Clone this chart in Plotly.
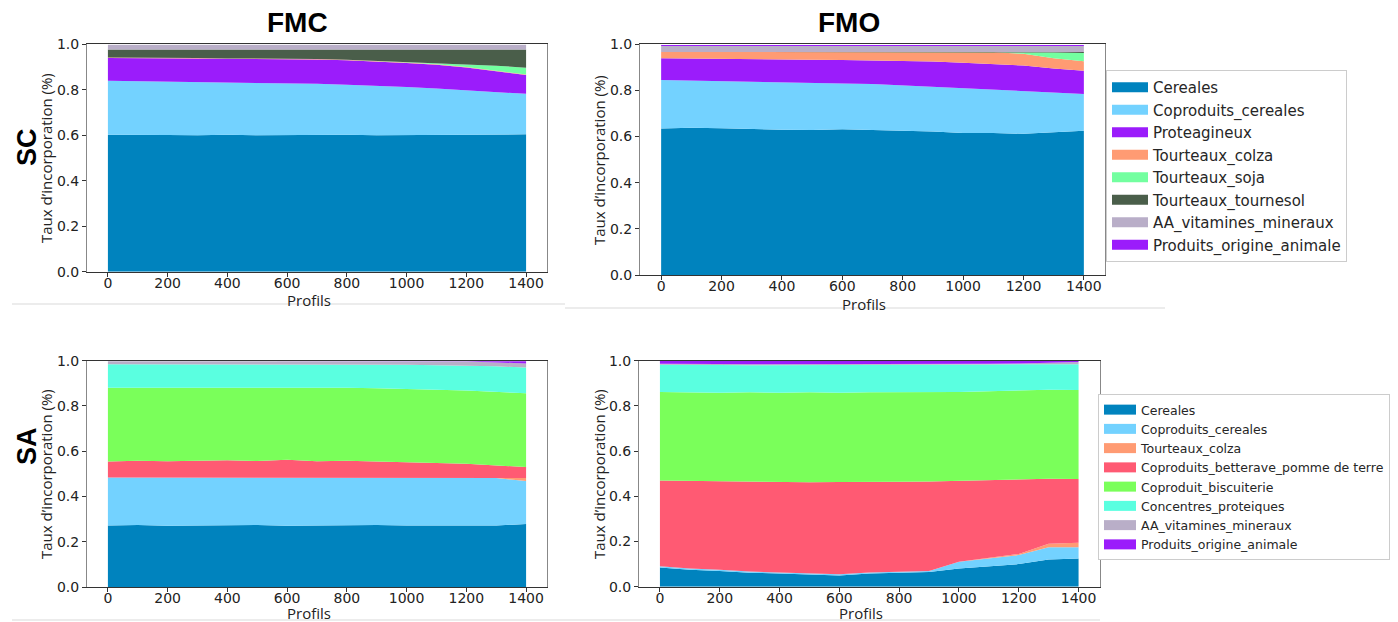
import plotly.graph_objects as go

# ---------------- data ----------------
profils = [0, 100, 200, 300, 400, 500, 600, 700, 800, 900, 1000, 1100, 1200, 1300, 1400]

# FMC - SC
fmc_sc_cereales = [0.602, 0.600, 0.601, 0.600, 0.602, 0.600, 0.601, 0.600, 0.602, 0.600, 0.601, 0.600, 0.602, 0.601, 0.604]
fmc_sc_coproduits_cereales = [0.238, 0.238, 0.235, 0.235, 0.230, 0.233, 0.229, 0.226, 0.220, 0.218, 0.211, 0.206, 0.196, 0.189, 0.178]
fmc_sc_proteagineux = [0.100, 0.102, 0.102, 0.103, 0.104, 0.103, 0.105, 0.107, 0.108, 0.107, 0.106, 0.104, 0.100, 0.092, 0.083]
fmc_sc_tourteaux_colza = [0.002] * 15
fmc_sc_tourteaux_soja = [0, 0, 0, 0, 0, 0, 0, 0, 0, 0, 0.001, 0.003, 0.010, 0.022, 0.030]
fmc_sc_tourteaux_tournesol = [0.035, 0.035, 0.037, 0.037, 0.039, 0.039, 0.040, 0.042, 0.045, 0.050, 0.056, 0.062, 0.067, 0.071, 0.080]
fmc_sc_aa = [0.021] * 15
fmc_sc_animal = [0] * 15

# FMO - SC
fmo_sc_cereales = [0.635, 0.638, 0.636, 0.632, 0.630, 0.628, 0.632, 0.628, 0.625, 0.622, 0.615, 0.616, 0.612, 0.618, 0.625]
fmo_sc_coproduits_cereales = [0.210, 0.204, 0.204, 0.206, 0.205, 0.204, 0.198, 0.200, 0.197, 0.193, 0.195, 0.189, 0.186, 0.172, 0.160]
fmo_sc_proteagineux = [0.095, 0.096, 0.097, 0.097, 0.100, 0.101, 0.102, 0.102, 0.106, 0.110, 0.110, 0.110, 0.110, 0.105, 0.100]
fmo_sc_tourteaux_colza = [0.027, 0.029, 0.030, 0.032, 0.032, 0.034, 0.035, 0.037, 0.039, 0.042, 0.047, 0.050, 0.051, 0.044, 0.042]
fmo_sc_tourteaux_soja = [0, 0, 0, 0, 0, 0, 0, 0, 0, 0, 0, 0.002, 0.008, 0.025, 0.035]
fmo_sc_tourteaux_tournesol = [0, 0, 0, 0, 0, 0, 0, 0, 0, 0, 0, 0, 0, 0.003, 0.005]
fmo_sc_aa = [0.026] * 15
fmo_sc_animal = [0.004] * 15

# FMC - SA
fmc_sa_cereales = [0.272, 0.274, 0.271, 0.273, 0.272, 0.274, 0.271, 0.273, 0.272, 0.274, 0.272, 0.273, 0.274, 0.272, 0.278]
fmc_sa_coproduits_cereales = [0.212, 0.210, 0.213, 0.211, 0.212, 0.210, 0.213, 0.211, 0.212, 0.210, 0.212, 0.211, 0.210, 0.210, 0.190]
fmc_sa_tourteaux_colza = [0, 0, 0, 0, 0, 0, 0, 0, 0, 0, 0, 0, 0, 0.002, 0.014]
fmc_sa_betterave = [0.071, 0.074, 0.072, 0.074, 0.076, 0.073, 0.078, 0.072, 0.074, 0.071, 0.069, 0.064, 0.061, 0.054, 0.048]
fmc_sa_biscuiterie = [0.325, 0.322, 0.326, 0.322, 0.322, 0.326, 0.320, 0.324, 0.322, 0.323, 0.323, 0.324, 0.323, 0.324, 0.326]
fmc_sa_concentres = [0.104, 0.104, 0.102, 0.104, 0.102, 0.101, 0.102, 0.103, 0.103, 0.105, 0.106, 0.108, 0.110, 0.113, 0.114]
fmc_sa_aa = [0.014, 0.014, 0.014, 0.014, 0.014, 0.014, 0.014, 0.015, 0.015, 0.015, 0.016, 0.018, 0.018, 0.017, 0.018]
fmc_sa_animal = [0, 0, 0, 0, 0, 0, 0, 0, 0, 0, 0, 0, 0.002, 0.006, 0.010]

# FMO - SA
fmo_sa_cereales = [0.085, 0.075, 0.070, 0.062, 0.058, 0.055, 0.050, 0.058, 0.060, 0.065, 0.080, 0.090, 0.100, 0.120, 0.125]
fmo_sa_coproduits_cereales = [0.005, 0.005, 0.005, 0.005, 0.005, 0.005, 0.005, 0.005, 0.005, 0.005, 0.030, 0.035, 0.040, 0.055, 0.050]
fmo_sa_tourteaux_colza = [0, 0, 0, 0, 0, 0, 0, 0, 0, 0, 0, 0.002, 0.005, 0.015, 0.020]
fmo_sa_betterave = [0.380, 0.388, 0.390, 0.397, 0.399, 0.402, 0.408, 0.399, 0.399, 0.395, 0.358, 0.343, 0.327, 0.288, 0.281]
fmo_sa_biscuiterie = [0.392, 0.392, 0.393, 0.396, 0.396, 0.398, 0.395, 0.398, 0.396, 0.397, 0.394, 0.395, 0.396, 0.394, 0.394]
fmo_sa_concentres = [0.120, 0.120, 0.123, 0.120, 0.122, 0.121, 0.122, 0.121, 0.120, 0.119, 0.120, 0.118, 0.116, 0.112, 0.114]
fmo_sa_aa = [0.004, 0.004, 0.004, 0.004, 0.004, 0.004, 0.004, 0.004, 0.004, 0.004, 0.004, 0.004, 0.004, 0.008, 0.010]
fmo_sa_animal = [0.014, 0.016, 0.015, 0.016, 0.016, 0.015, 0.016, 0.015, 0.016, 0.015, 0.014, 0.013, 0.012, 0.008, 0.006]

sc_names = ["Cereales", "Coproduits_cereales", "Proteagineux", "Tourteaux_colza",
            "Tourteaux_soja", "Tourteaux_tournesol", "AA_vitamines_mineraux",
            "Produits_origine_animale"]
sa_names = ["Cereales", "Coproduits_cereales", "Tourteaux_colza",
            "Coproduits_betterave_pomme de terre", "Coproduit_biscuiterie",
            "Concentres_proteiques", "AA_vitamines_mineraux", "Produits_origine_animale"]

col_titles = ["FMC", "FMO"]
row_titles = ["SC", "SA"]
x_title = "Profils"
y_title = "Taux d’incorporation (%)"
x_ticks = [0, 200, 400, 600, 800, 1000, 1200, 1400]
y_ticks = [0.0, 0.2, 0.4, 0.6, 0.8, 1.0]

# ---------------- style ----------------
colors = {
    "Cereales": "#0083be",
    "Coproduits_cereales": "#73d2ff",
    "Proteagineux": "#9b1cfb",
    "Tourteaux_colza": "#ff9b73",
    "Tourteaux_soja": "#73ffa0",
    "Tourteaux_tournesol": "#4a5e4a",
    "AA_vitamines_mineraux": "#b9aec8",
    "Produits_origine_animale": "#9b1cfb",
    "Coproduits_betterave_pomme de terre": "#ff5a73",
    "Coproduit_biscuiterie": "#7aff5a",
    "Concentres_proteiques": "#5affe0",
}

panels = [
    ("", sc_names, [fmc_sc_cereales, fmc_sc_coproduits_cereales, fmc_sc_proteagineux,
                    fmc_sc_tourteaux_colza, fmc_sc_tourteaux_soja, fmc_sc_tourteaux_tournesol,
                    fmc_sc_aa, fmc_sc_animal], None),
    ("2", sc_names, [fmo_sc_cereales, fmo_sc_coproduits_cereales, fmo_sc_proteagineux,
                     fmo_sc_tourteaux_colza, fmo_sc_tourteaux_soja, fmo_sc_tourteaux_tournesol,
                     fmo_sc_aa, fmo_sc_animal], "legend"),
    ("3", sa_names, [fmc_sa_cereales, fmc_sa_coproduits_cereales, fmc_sa_tourteaux_colza,
                     fmc_sa_betterave, fmc_sa_biscuiterie, fmc_sa_concentres,
                     fmc_sa_aa, fmc_sa_animal], None),
    ("4", sa_names, [fmo_sa_cereales, fmo_sa_coproduits_cereales, fmo_sa_tourteaux_colza,
                     fmo_sa_betterave, fmo_sa_biscuiterie, fmo_sa_concentres,
                     fmo_sa_aa, fmo_sa_animal], "legend2"),
]

# page body has an 8px margin: figure is 8px smaller and coordinates shifted
OFF = 8
W, H = 1398 - OFF, 622 - OFF
def px(x):
    return (x - OFF) / W
def py(y):
    return 1 - (y - OFF) / H

fig = go.Figure()
for suffix, names, series, leg in panels:
    xa, ya = "x" + suffix, "y" + suffix
    for name, vals in zip(names, series):
        fig.add_trace(go.Scatter(
            x=profils, y=vals, mode="lines", stackgroup="g" + (suffix or "1"),
            line=dict(width=0, color=colors[name]), fillcolor=colors[name],
            showlegend=False, hoverinfo="skip", xaxis=xa, yaxis=ya))
    if leg:
        for name in names:
            fig.add_trace(go.Scatter(
                x=[None], y=[None], mode="lines", name=name,
                line=dict(width=10, color=colors[name]),
                showlegend=True, legend=leg, xaxis=xa, yaxis=ya))

# panel geometry (screen pixels): left spine, right spine, top, bottom
geom = {
    "": (87, 547, 44.3, 271.7),
    "2": (640, 1105, 44.3, 275),
    "3": (87, 547, 360.7, 587),
    "4": (639, 1099.5, 360.7, 586.7),
}
tickfont = dict(family="DejaVu Sans", size=14, color="#222222")
layout = {}
for suffix, (l, r, t, b) in geom.items():
    layout["xaxis" + suffix] = dict(
        domain=[px(l), px(r)], range=[-70, 1470], anchor="y" + suffix,
        tickvals=x_ticks, ticks="outside", ticklen=4, tickcolor="#333",
        showline=True, mirror=True, linecolor="#333", linewidth=1,
        showgrid=False, zeroline=False, tickfont=tickfont, fixedrange=True,
        ticklabelstandoff=-6)
    layout["yaxis" + suffix] = dict(
        domain=[py(b), py(t)], range=[0, 1], anchor="x" + suffix,
        tickvals=y_ticks, tickformat=".1f", ticks="outside", ticklen=4, tickcolor="#333",
        showline=True, mirror=True, linecolor="#888", linewidth=1,
        showgrid=False, zeroline=False, tickfont=tickfont, fixedrange=True)

def ann(text, x, y, font, angle=0):
    return dict(text=text, x=px(x), y=py(y), xref="paper", yref="paper",
                xanchor="center", yanchor="middle", showarrow=False,
                textangle=angle, font=font)

annotations = []
tfont = dict(family="Liberation Sans, Arial", size=28, color="black")
for txt, (x, y) in zip(col_titles, [(297, 22), (849, 22)]):
    annotations.append(ann("<b>%s</b>" % txt, x, y, tfont))
rfont = dict(family="Liberation Sans, Arial", size=27, color="black")
for txt, (x, y) in zip(row_titles, [(27, 147), (27, 446)]):
    annotations.append(ann("<b>%s</b>" % txt, x, y, rfont, -90))
axfont = dict(family="Open Sans", size=15, color="#222222")
for (x, y) in [(46, 158), (599, 160), (46, 474), (599, 474)]:
    annotations.append(ann(y_title, x, y, axfont, -90))
for (x, y) in [(309, 300), (864, 304), (309, 613), (861, 613)]:
    annotations.append(ann(x_title, x, y, axfont))

shapes = []
for (x0, y0, x1, y1) in [(12, 304, 565, 304), (565, 308, 1165, 308),
                         (12, 620, 605, 620), (605, 620, 1100, 620)]:
    shapes.append(dict(type="line", xref="paper", yref="paper", x0=px(x0), y0=py(y0),
                       x1=px(x1), y1=py(y1), line=dict(color="#d9d9d9", width=1)))

fig.update_layout(
    width=W, height=H, margin=dict(l=0, r=0, t=0, b=0, autoexpand=False),
    paper_bgcolor="white", plot_bgcolor="white",
    annotations=annotations, shapes=shapes, hovermode=False,
    legend=dict(x=px(1106), y=py(70), xanchor="left", yanchor="top",
                bordercolor="#cccccc", borderwidth=1, bgcolor="white",
                font=dict(family="DejaVu Sans", size=15, color="#262626"),
                tracegroupgap=0, traceorder="normal", itemwidth=36),
    legend2=dict(x=px(1098), y=py(394), xanchor="left", yanchor="top",
                 bordercolor="#cccccc", borderwidth=1, bgcolor="white",
                 font=dict(family="DejaVu Sans", size=12.5, color="#262626"),
                 tracegroupgap=0, traceorder="normal", itemwidth=32),
    **layout,
)
fig.write_html("out.html")
